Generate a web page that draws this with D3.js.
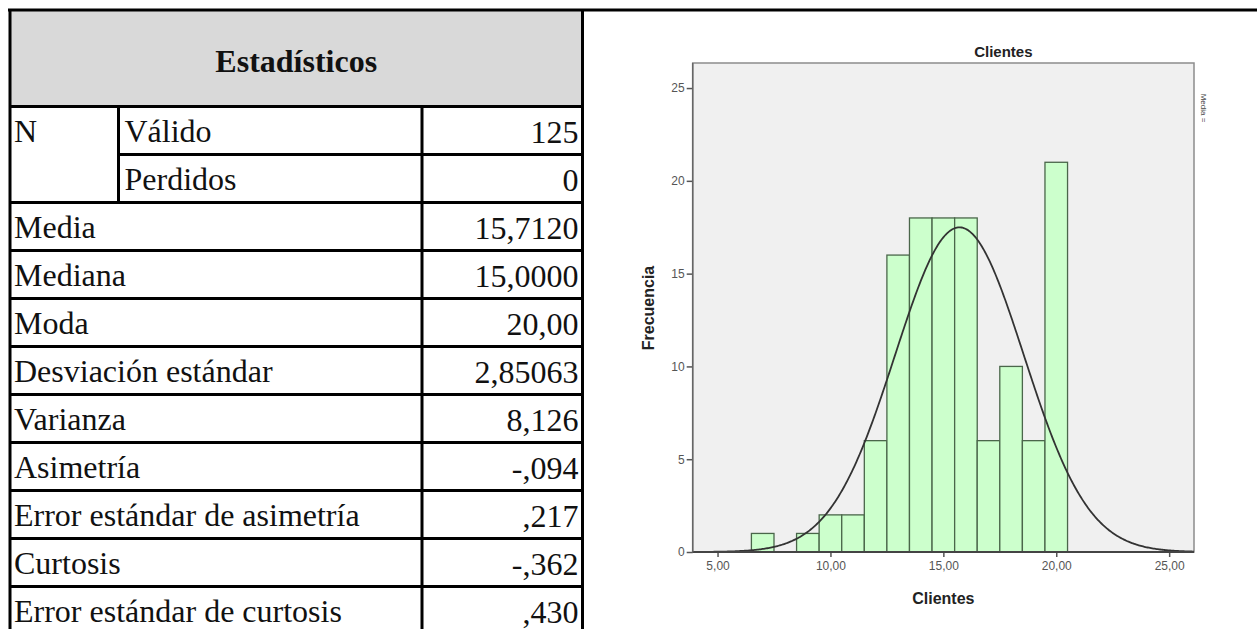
<!DOCTYPE html>
<html>
<head>
<meta charset="utf-8">
<script src="https://cdn.jsdelivr.net/npm/d3@7"></script>
<style>
  html, body { margin: 0; padding: 0; background: #fff; }
  svg { display: block; }
</style>
</head>
<body>
<div id="chart"></div>
<script>
// table content
const tableTitle = 'Estadísticos';
const nLabel = 'N';
const nSubLabels = ['Válido', 'Perdidos'];
const nValues = ['125', '0'];
const statLabels = ['Media', 'Mediana', 'Moda', 'Desviación estándar', 'Varianza', 'Asimetría',
  'Error estándar de asimetría', 'Curtosis', 'Error estándar de curtosis'];
const statValues = ['15,7120', '15,0000', '20,00', '2,85063', '8,126', '-,094', ',217', '-,362', ',430'];

// histogram content
const binCenters = [7, 9, 10, 11, 12, 13, 14, 15, 16, 17, 18, 19, 20];
const frequencies = [1, 1, 2, 2, 6, 16, 18, 18, 18, 6, 10, 6, 21];
const xTicks = [5, 10, 15, 20, 25];
const yTicks = [0, 5, 10, 15, 20, 25];
const fitMean = 15.712, fitSd = 2.85063, fitN = 125;

const W = 1257, H = 629;
const SERIF = '"Liberation Serif", "Times New Roman", serif';
const SANS = '"Liberation Sans", Arial, sans-serif';

const svg = d3.select('#chart').append('svg').attr('width', W).attr('height', H);
svg.append('rect').attr('width', W).attr('height', H).attr('fill', '#fff');

// ---------- table ----------
const tL = 10, tR = 582.5, c1 = 118.5, c2 = 422, tTop = 10, hdrB = 106.5, rowH = 48;
const rowY = i => hdrB + i * rowH; // top of row i
const tbl = svg.append('g');

tbl.append('rect').attr('x', tL).attr('y', tTop).attr('width', tR - tL).attr('height', hdrB - tTop)
  .attr('fill', '#d9d9d9');
tbl.append('text').attr('x', (tL + tR) / 2).attr('y', 72).attr('text-anchor', 'middle')
  .attr('font-family', SERIF).attr('font-weight', 'bold').attr('font-size', 32).attr('fill', '#111')
  .text(tableTitle);

const line = (x1, y1, x2, y2) => tbl.append('line').attr('x1', x1).attr('y1', y1).attr('x2', x2).attr('y2', y2)
  .attr('stroke', '#000').attr('stroke-width', 3);

const nRows = 2 + statLabels.length;
line(tL - 2, tTop, W, tTop);                // top rule runs across the whole page
line(tL, tTop, tL, H);
line(tR, tTop, tR, H);
line(tL, hdrB, tR, hdrB);
for (let i = 1; i < nRows; i++) {
  if (i === 1) line(c1, rowY(i), tR, rowY(i));
  else line(tL, rowY(i), tR, rowY(i));
}
line(c1, rowY(0), c1, rowY(2));
line(c2, rowY(0), c2, H);

const txt = (x, y, s, anchor) => tbl.append('text').attr('x', x).attr('y', y)
  .attr('text-anchor', anchor || 'start').attr('font-family', SERIF).attr('font-size', 32)
  .attr('fill', '#111').text(s);

const base = 35;
txt(14, rowY(0) + base, nLabel);
nSubLabels.forEach((s, i) => txt(c1 + 6, rowY(i) + base, s));
nValues.forEach((s, i) => txt(tR - 4, rowY(i) + base + 1, s, 'end'));
statLabels.forEach((s, i) => txt(14, rowY(i + 2) + base, s));
statValues.forEach((s, i) => txt(tR - 4, rowY(i + 2) + base + 1, s, 'end'));

// ---------- histogram ----------
const pL = 692.7, pR = 1194, pT = 63, pB = 552;
const x = d3.scaleLinear().domain([3.9, 26.1]).range([pL, pR]);
const y = d3.scaleLinear().domain([0, 26.35]).range([pB, pT]);
const fmtX = v => d3.format('.2f')(v).replace('.', ',');

const ch = svg.append('g');
ch.append('rect').attr('x', pL).attr('y', pT).attr('width', pR - pL).attr('height', pB - pT)
  .attr('fill', '#f0f0f0').attr('stroke', '#8c8c8c').attr('stroke-width', 1.5);

ch.append('g').selectAll('rect').data(binCenters).enter().append('rect')
  .attr('x', (d) => x(d - 0.5))
  .attr('y', (d, i) => y(frequencies[i]))
  .attr('width', d => x(d + 0.5) - x(d - 0.5))
  .attr('height', (d, i) => y(0) - y(frequencies[i]))
  .attr('fill', '#ccffcc').attr('stroke', '#4a664a').attr('stroke-width', 1.3);

// fitted normal curve from mean / sd / N in the table
const dens = v => fitN * Math.exp(-0.5 * ((v - fitMean) / fitSd) ** 2) / (fitSd * Math.sqrt(2 * Math.PI));
const curvePts = d3.range(x.domain()[0], x.domain()[1] + 0.001, 0.05);
ch.append('path').datum(curvePts)
  .attr('d', d3.line().x(d => x(d)).y(d => y(dens(d))))
  .attr('fill', 'none').attr('stroke', '#333').attr('stroke-width', 1.8);

// axes
const xAxis = ch.append('g').attr('transform', `translate(0,${pB})`)
  .call(d3.axisBottom(x).tickValues(xTicks).tickFormat(fmtX).tickSize(5).tickPadding(4));
const yAxis = ch.append('g').attr('transform', `translate(${pL},0)`)
  .call(d3.axisLeft(y).tickValues(yTicks).tickFormat(d3.format('d')).tickSize(6).tickPadding(2));
[xAxis, yAxis].forEach(a => {
  a.select('.domain').remove();
  a.selectAll('line').attr('stroke', '#555').attr('stroke-width', 1.5);
  a.selectAll('text').attr('font-family', SANS).attr('font-size', 12).attr('fill', '#555');
});
ch.append('line').attr('x1', pL).attr('x2', pR).attr('y1', pB).attr('y2', pB)
  .attr('stroke', '#444').attr('stroke-width', 2);
ch.append('line').attr('x1', pL).attr('x2', pL).attr('y1', pT).attr('y2', pB)
  .attr('stroke', '#666').attr('stroke-width', 1.5);

ch.append('text').attr('x', x(15) + 60).attr('y', 57).attr('text-anchor', 'middle')
  .attr('font-family', SANS).attr('font-weight', 'bold').attr('font-size', 15).attr('fill', '#222')
  .text('Clientes');
ch.append('text').attr('x', x(15)).attr('y', 604).attr('text-anchor', 'middle')
  .attr('font-family', SANS).attr('font-weight', 'bold').attr('font-size', 16).attr('fill', '#222')
  .text('Clientes');
ch.append('text').attr('transform', `translate(654,308) rotate(-90)`).attr('text-anchor', 'middle')
  .attr('font-family', SANS).attr('font-weight', 'bold').attr('font-size', 16).attr('fill', '#222')
  .text('Frecuencia');

// clipped legend text at the right edge
ch.append('text').attr('transform', `translate(1201,108) rotate(90)`).attr('text-anchor', 'middle')
  .attr('font-family', SANS).attr('font-size', 8).attr('fill', '#444')
  .text('Media =');
</script>
</body>
</html>
